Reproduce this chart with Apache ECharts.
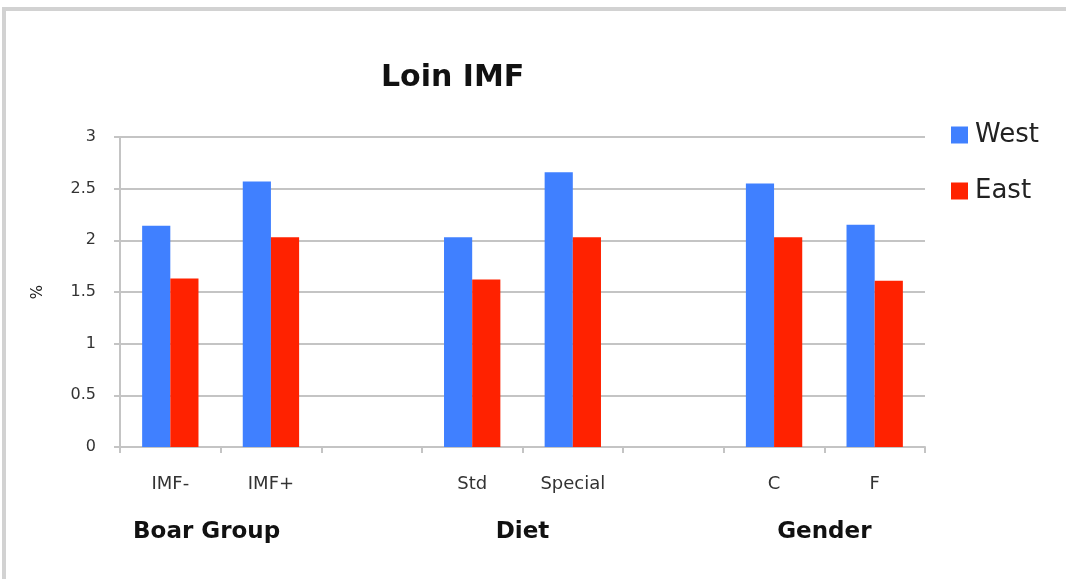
<!DOCTYPE html>
<html>
<head>
<meta charset="utf-8">
<title>Loin IMF</title>
<script src="https://cdn.jsdelivr.net/npm/echarts@6/dist/echarts.min.js"></script>
<style>
  html, body { margin: 0; padding: 0; background: #ffffff; }
  #chart { width: 1066px; height: 579px; }
</style>
</head>
<body>
<div id="chart"></div>
<script>
// Categories along the x axis (blank slots separate the three groups)
const categories = ['IMF-', 'IMF+', ' ', 'Std', 'Special', '  ', 'C', 'F'];
// Group captions sit on the tick boundaries between the paired categories
const groupLabels = ['', 'Boar Group', '', '', 'Diet', '', '', 'Gender', ''];
// Loin intramuscular fat (%)
const westValues = [2.14, 2.57, null, 2.03, 2.66, null, 2.55, 2.15];
const eastValues = [1.63, 2.03, null, 1.62, 2.03, null, 2.03, 1.61];
const yTicks = { min: 0, max: 3, interval: 0.5 };

const FONT = '"DejaVu Sans", "Open Sans", sans-serif';
const GRID_GRAY = '#c4c4c4';

const chart = echarts.init(document.getElementById('chart'), null, { renderer: 'canvas' });

chart.setOption({
  backgroundColor: '#ffffff',
  animation: false,
  title: {
    text: 'Loin IMF',
    left: 376,
    top: 58,
    textStyle: { fontFamily: FONT, fontSize: 30, fontWeight: 'bold', color: '#111' }
  },
  legend: {
    orient: 'vertical',
    left: 951,
    top: 122,
    padding: 0,
    itemWidth: 17,
    itemHeight: 17,
    itemGap: 30,
    icon: 'rect',
    data: ['West', 'East'],
    textStyle: { fontFamily: FONT, fontSize: 26, color: '#222', padding: [0, 0, 0, 2] }
  },
  graphic: [
    { type: 'rect', shape: { x: 2, y: 7, width: 1064, height: 4 }, style: { fill: '#d2d2d2' }, silent: true },
    { type: 'rect', shape: { x: 2, y: 7, width: 4, height: 572 }, style: { fill: '#d2d2d2' }, silent: true }
  ],
  grid: { left: 120, right: 141, top: 137, bottom: 132, containLabel: false },
  xAxis: [
    {
      type: 'category',
      data: categories,
      boundaryGap: true,
      axisLine: { show: true, lineStyle: { color: GRID_GRAY, width: 2 } },
      axisTick: { show: true, interval: 0, length: 6, lineStyle: { color: GRID_GRAY, width: 2 } },
      axisLabel: { interval: 0, margin: 28, fontFamily: FONT, fontSize: 18, color: '#333' }
    },
    {
      type: 'category',
      position: 'bottom',
      data: groupLabels.map((_, i) => String(i)),
      boundaryGap: false,
      axisLine: { show: false },
      axisTick: { show: false },
      axisLabel: {
        interval: 0,
        margin: 74,
        formatter: (v, i) => groupLabels[i] === 'Boar Group' ? '{shift|' + groupLabels[i] + '}' : groupLabels[i],
        fontFamily: FONT,
        fontSize: 23,
        fontWeight: 'bold',
        color: '#111',
        rich: {
          shift: { fontFamily: FONT, fontSize: 23, fontWeight: 'bold', color: '#111', padding: [0, 28, 0, 0] }
        }
      }
    }
  ],
  yAxis: {
    type: 'value',
    min: yTicks.min,
    max: yTicks.max,
    interval: yTicks.interval,
    name: '%',
    nameLocation: 'middle',
    nameRotate: 90,
    nameGap: 74,
    nameTextStyle: { fontFamily: FONT, fontSize: 15, color: '#222' },
    axisLine: { show: true, lineStyle: { color: GRID_GRAY, width: 2 } },
    axisTick: { show: true, length: 6, lineStyle: { color: GRID_GRAY, width: 2 } },
    splitLine: { show: true, lineStyle: { color: GRID_GRAY, width: 2 } },
    axisLabel: { margin: 24, fontFamily: FONT, fontSize: 16, color: '#333' }
  },
  series: [
    {
      name: 'West',
      type: 'bar',
      data: westValues,
      barGap: '0%',
      barCategoryGap: '44%',
      itemStyle: { color: '#4080ff' }
    },
    {
      name: 'East',
      type: 'bar',
      data: eastValues,
      barGap: '0%',
      barCategoryGap: '44%',
      itemStyle: { color: '#ff2200' }
    }
  ]
});
</script>
</body>
</html>
